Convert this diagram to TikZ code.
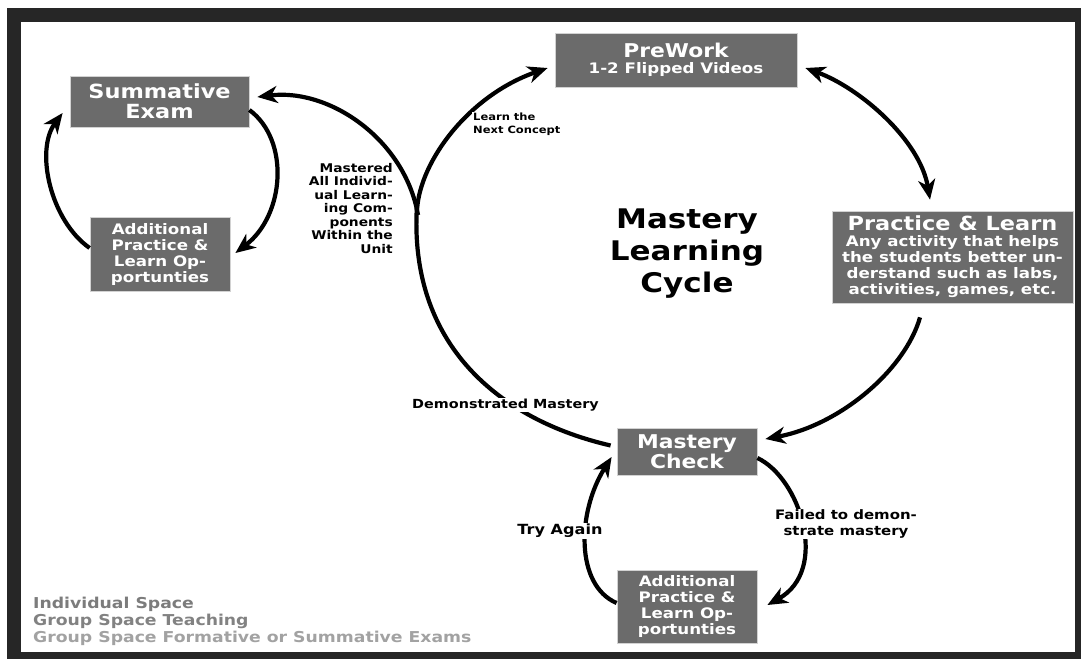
\documentclass[tikz,border=0pt]{standalone}
\usepackage{fontspec}
\newfontfamily\vb{DejaVu Sans Bold}[FakeStretch=1.15]
\usetikzlibrary{arrows.meta}
\definecolor{boxgray}{HTML}{6B6B6B}
\definecolor{framegray}{HTML}{262626}
\definecolor{legA}{HTML}{7C7C7C}
\definecolor{legB}{HTML}{828282}
\definecolor{legC}{HTML}{A2A2A2}
\begin{document}
\begin{tikzpicture}[x=1pt,y=-1pt,
  box/.style={fill=boxgray, draw=gray!35, line width=0.8pt, text=white, align=center, inner sep=0pt},
  flow/.style={line width=4.2pt, -{Stealth[length=20pt,width=17pt,inset=6pt]}},
  twoway/.style={line width=4.2pt, {Stealth[length=20pt,width=17pt,inset=6pt]}-{Stealth[length=20pt,width=17pt,inset=6pt]}},
  lbl/.style={fill=white, inner sep=1pt, text=black},
  legend/.style={anchor=base west, inner sep=0pt, font=\vb\fontsize{15}{16}\selectfont},
]
% frame
\fill[white] (0,0) rectangle (1081,659);
\fill[framegray] (7,8) rectangle (1081,659);
\fill[white] (21,22) rectangle (1075,652);
\useasboundingbox (0,0) rectangle (1081,659);

% boxes
\node[box, minimum width=179pt, minimum height=51pt, font=\vb\fontsize{19.5}{20}\selectfont]
  (sumexam) at (159.5,101.5) {Summative\\Exam};
\node[box, minimum width=242pt, minimum height=54pt, font=\vb\fontsize{14.5}{16}\selectfont]
  (prework) at (676,60) {{\fontsize{19}{19}\selectfont PreWork}\\1-2 Flipped Videos};
\node[box, minimum width=241pt, minimum height=92pt, font=\vb\fontsize{14.5}{16}\selectfont]
  (practice) at (952.5,257) {{\fontsize{19.5}{19.5}\selectfont Practice \& Learn}\\Any activity that helps\\the students better un-\\derstand such as labs,\\activities, games, etc.};
\node[box, minimum width=140pt, minimum height=47pt, font=\vb\fontsize{19}{19.5}\selectfont]
  (check) at (687,451.5) {Mastery\\Check};
\node[box, minimum width=140pt, minimum height=73pt, font=\vb\fontsize{14.5}{16}\selectfont]
  (addB) at (687,606.5) {Additional\\Practice \&\\Learn Op-\\portunties};
\node[box, minimum width=140pt, minimum height=74pt, font=\vb\fontsize{14.5}{16}\selectfont]
  (addL) at (160,254) {Additional\\Practice \&\\Learn Op-\\portunties};

% title
\node[align=center, inner sep=0pt, font=\vb\fontsize{27}{32}\selectfont] (title) at (687,254)
  {Mastery\\Learning\\Cycle};

% connectors
\coordinate (fork) at (417,205);
\draw[line width=4.2pt] ([shift={(-6,-6)}]check.west) .. controls (500,420) and (408,345) .. (fork);
\draw[flow] ([shift={(0,5)}]fork) .. controls (420,160) and (470,95) .. ([shift={(-7,8)}]prework.west);
\draw[flow] ([shift={(1,10)}]fork) .. controls (405,140) and (330,88) .. ([shift={(8,-4.5)}]sumexam.east);
\draw[twoway] ([shift={(8,8)}]prework.east) .. controls (860,88) and (920,140) .. ([shift={(-22.5,-11)}]practice.north);
\draw[flow] ([shift={(-32.5,14)}]practice.south) .. controls (905,370) and (840,425) .. ([shift={(8,-12.5)}]check.east);
\draw[flow] ([shift={(0,6.5)}]check.east) .. controls (800,478) and (830,570) .. ([shift={(10,-1.5)}]addB.east);
\draw[flow] ([shift={(0,-3.5)}]addB.west) .. controls (575,585) and (577,512) .. ([shift={(-5,5.5)}]check.west);
\draw[flow] ([shift={(0,8.5)}]sumexam.east) .. controls (290,140) and (285,215) .. ([shift={(5,-1)}]addL.east);
\draw[flow] ([shift={(0,-6)}]addL.west) .. controls (50,220) and (35,150) .. ([shift={(-7,11.5)}]sumexam.west);

% connector labels
\node[lbl, anchor=north west, align=left, font=\vb\fontsize{10}{13}\selectfont] (lnext) at (472,111.5)
  {Learn the\\Next Concept};
\node[lbl, anchor=north east, align=right, font=\vb\fontsize{12}{13.5}\selectfont] (lmast) at (394,162)
  {Mastered\\All Individ-\\ual Learn-\\ing Com-\\ponents\\Within the\\Unit};
\node[lbl, font=\vb\fontsize{12.5}{14}\selectfont] (ldemo) at (505.5,405) {Demonstrated Mastery};
\node[lbl, font=\vb\fontsize{14}{15}\selectfont] (ltry) at (560,531) {Try Again};
\node[lbl, align=center, font=\vb\fontsize{13}{15.5}\selectfont] (lfail) at (846,524)
  {Failed to demon-\\strate mastery};

% legend
\node[legend, text=legA] (leg1) at (33,608) {Individual Space};
\node[legend, text=legB] (leg2) at (33,625) {Group Space Teaching};
\node[legend, text=legC] (leg3) at (33,642) {Group Space Formative or Summative Exams};
\end{tikzpicture}
\end{document}
